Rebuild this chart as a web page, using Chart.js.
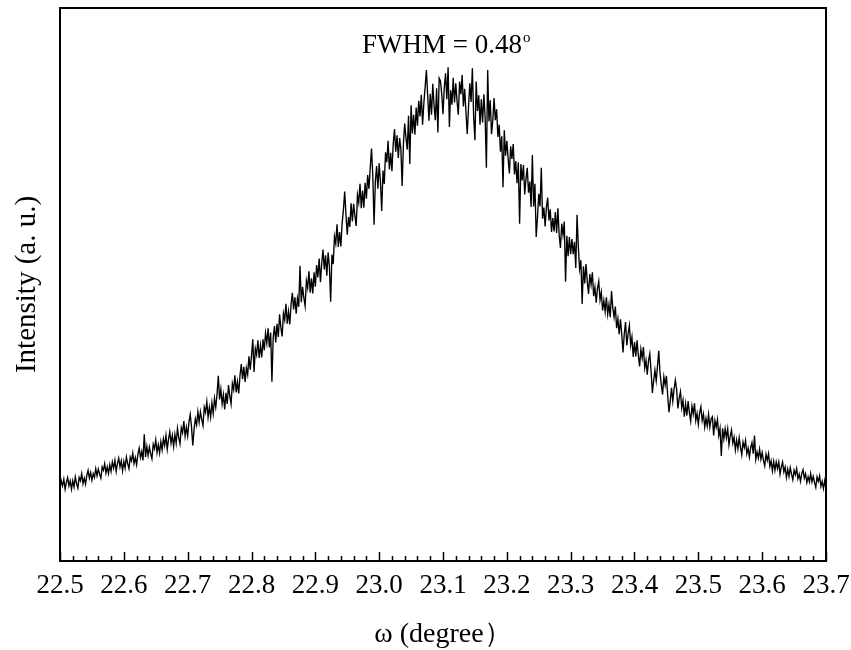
<!DOCTYPE html>
<html>
<head>
<meta charset="utf-8">
<script src="https://cdn.jsdelivr.net/npm/chart.js@4.4.1/dist/chart.umd.min.js"></script>
<style>
  body { margin: 0; background: #fff; }
</style>
</head>
<body>
<canvas id="rocking" width="851" height="650"></canvas>
<script>
// omega scan, one reading every 0.002 degree (10 readings per line = 0.02 deg)
const omegaStart = 22.5;
const omegaStep = 0.002;
const xTicks = [22.5, 22.6, 22.7, 22.8, 22.9, 23.0, 23.1, 23.2, 23.3, 23.4, 23.5, 23.6, 23.7];
const intensity = [
  131, 145, 136, 148, 130, 142, 151, 136, 145, 130,
  145, 134, 152, 140, 132, 151, 145, 158, 140, 150,
  139, 155, 164, 150, 160, 146, 158, 151, 167, 154,
  166, 157, 150, 170, 164, 176, 159, 170, 158, 174,
  162, 179, 168, 182, 162, 176, 186, 170, 181, 163,
  180, 168, 188, 176, 167, 188, 181, 195, 176, 187,
  174, 193, 204, 187, 198, 182, 229, 188, 207, 191,
  206, 194, 185, 211, 203, 219, 196, 210, 195, 216,
  201, 221, 209, 227, 202, 220, 234, 213, 227, 207,
  229, 213, 240, 223, 212, 241, 232, 253, 226, 242,
  226, 251, 265, 243, 209, 238, 257, 246, 270, 251,
  270, 256, 245, 278, 269, 288, 260, 278, 260, 286,
  267, 294, 278, 301, 335, 292, 311, 284, 301, 274,
  304, 284, 318, 298, 284, 321, 310, 336, 305, 324,
  303, 336, 356, 329, 351, 324, 349, 337, 370, 346,
  371, 401, 342, 384, 373, 399, 367, 390, 368, 401,
  381, 412, 394, 421, 386, 413, 324, 404, 425, 395,
  429, 405, 446, 422, 406, 448, 436, 465, 429, 451,
  428, 464, 485, 455, 477, 447, 475, 460, 534, 468,
  496, 476, 461, 507, 494, 524, 485, 511, 484, 522,
  496, 535, 513, 547, 504, 538, 563, 527, 553, 516,
  558, 533, 469, 554, 537, 587, 574, 609, 568, 595,
  569, 611, 635, 668, 626, 590, 622, 604, 647, 614,
  646, 624, 606, 662, 648, 682, 638, 670, 639, 684,
  655, 698, 673, 711, 746, 698, 608, 686, 714, 673,
  719, 686, 633, 706, 682, 739, 721, 760, 708, 738,
  705, 754, 781, 740, 770, 729, 765, 745, 678, 755,
  791, 765, 744, 805, 718, 824, 773, 807, 771, 820,
  787, 832, 804, 843, 789, 828, 857, 888, 842, 796,
  845, 807, 863, 824, 797, 855, 775, 873, 868, 845,
  808, 856, 882, 835, 893, 785, 851, 825, 874, 829,
  864, 832, 807, 867, 844, 879, 822, 854, 811, 772,
  821, 864, 830, 891, 804, 761, 867, 814, 842, 789,
  835, 793, 844, 802, 711, 888, 795, 833, 772, 797,
  837, 797, 817, 767, 789, 740, 768, 676, 779, 733,
  760, 728, 701, 750, 727, 754, 699, 723, 683, 721,
  610, 718, 688, 716, 663, 691, 711, 666, 686, 640,
  734, 641, 682, 586, 621, 664, 641, 711, 619, 639,
  605, 640, 657, 616, 636, 595, 620, 596, 631, 593,
  638, 589, 566, 610, 590, 614, 505, 588, 551, 586,
  555, 582, 555, 577, 530, 626, 568, 528, 544, 465,
  533, 502, 537, 506, 483, 519, 500, 522, 479, 495,
  467, 493, 506, 472, 486, 453, 471, 451, 477, 446,
  464, 441, 488, 458, 441, 460, 421, 438, 410, 437,
  410, 377, 411, 432, 390, 411, 426, 390, 405, 369,
  396, 370, 399, 372, 352, 383, 367, 387, 349, 363,
  337, 363, 375, 343, 304, 326, 345, 326, 352, 380,
  340, 319, 301, 333, 318, 335, 299, 269, 289, 313,
  289, 311, 327, 310, 276, 294, 306, 277, 291, 261,
  284, 263, 289, 268, 253, 280, 266, 285, 254, 267,
  247, 268, 279, 254, 266, 242, 258, 244, 265, 242,
  257, 261, 227, 254, 242, 256, 227, 240, 190, 240,
  221, 239, 223, 239, 210, 226, 237, 213, 224, 201,
  219, 203, 223, 206, 192, 215, 205, 218, 194, 204,
  188, 205, 214, 194, 227, 184, 197, 186, 202, 184,
  196, 182, 172, 193, 182, 194, 171, 181, 163, 180,
  164, 179, 167, 179, 157, 170, 179, 161, 170, 151,
  166, 153, 169, 157, 147, 164, 156, 167, 149, 157,
  144, 158, 165, 150, 158, 142, 152, 143, 158, 143,
  153, 142, 133, 152, 144, 154, 135, 144, 131, 145,
  130
];
const noteText = 'FWHM = 0.48';
const noteAt = { x: 22.973, y: 918 };

const points = intensity.map((v, i) => ({ x: omegaStart + i * omegaStep, y: v }));
const serif = 'Liberation Serif';

// frame, inward ticks and the FWHM note
const frameAndNote = {
  id: 'frameAndNote',
  afterDraw(chart) {
    const { ctx, chartArea: a, scales: { x, y } } = chart;
    ctx.save();
    ctx.strokeStyle = '#000';
    ctx.lineWidth = 1.5;
    for (let i = 0; i <= 60; i++) {
      const px = Math.round(x.getPixelForValue(22.5 + i * 0.02)) + 0.5;
      const len = i % 5 === 0 ? 9 : 5;
      ctx.beginPath();
      ctx.moveTo(px, a.bottom);
      ctx.lineTo(px, a.bottom - len);
      ctx.stroke();
    }
    ctx.lineWidth = 2;
    ctx.strokeRect(a.left, a.top, a.right - a.left, a.bottom - a.top);

    const nx = x.getPixelForValue(noteAt.x);
    const ny = y.getPixelForValue(noteAt.y);
    ctx.fillStyle = '#000';
    ctx.textBaseline = 'alphabetic';
    ctx.textAlign = 'left';
    ctx.font = '27px "' + serif + '"';
    ctx.fillText(noteText, nx, ny);
    const w = ctx.measureText(noteText).width;
    ctx.font = '15px "' + serif + '"';
    ctx.fillText('o', nx + w + 1, ny - 11);
    ctx.restore();
  }
};

new Chart(document.getElementById('rocking'), {
  type: 'line',
  data: {
    datasets: [{
      data: points,
      borderColor: '#000',
      borderWidth: 1.35,
      pointRadius: 0,
      tension: 0
    }]
  },
  options: {
    responsive: false,
    animation: false,
    layout: { padding: { top: 8, right: 25, left: 0, bottom: 0 } },
    plugins: { legend: { display: false }, tooltip: { enabled: false } },
    scales: {
      x: {
        type: 'linear',
        min: 22.5,
        max: 23.7,
        afterFit(s) { s.height = 89; s.paddingLeft = 0; s.paddingRight = 0; },
        afterBuildTicks(s) { s.ticks = xTicks.map(v => ({ value: v })); },
        grid: { display: false, drawTicks: false },
        border: { display: false },
        ticks: {
          color: '#000',
          padding: 9,
          maxRotation: 0,
          autoSkip: false,
          font: { family: serif, size: 27 },
          callback: v => v.toFixed(1)
        },
        title: {
          display: true,
          text: 'ω (degree）',
          color: '#000',
          font: { family: serif, size: 28, lineHeight: 1 },
          padding: { top: 0, bottom: 1 }
        }
      },
      y: {
        min: 0,
        max: 1000,
        afterFit(s) { s.width = 60; },
        ticks: { display: false },
        grid: { display: false, drawTicks: false },
        border: { display: false },
        title: {
          display: true,
          text: 'Intensity (a. u.)',
          color: '#000',
          font: { family: serif, size: 29, lineHeight: 1 },
          padding: { top: 13, bottom: 0 }
        }
      }
    }
  },
  plugins: [frameAndNote]
});
</script>
</body>
</html>
